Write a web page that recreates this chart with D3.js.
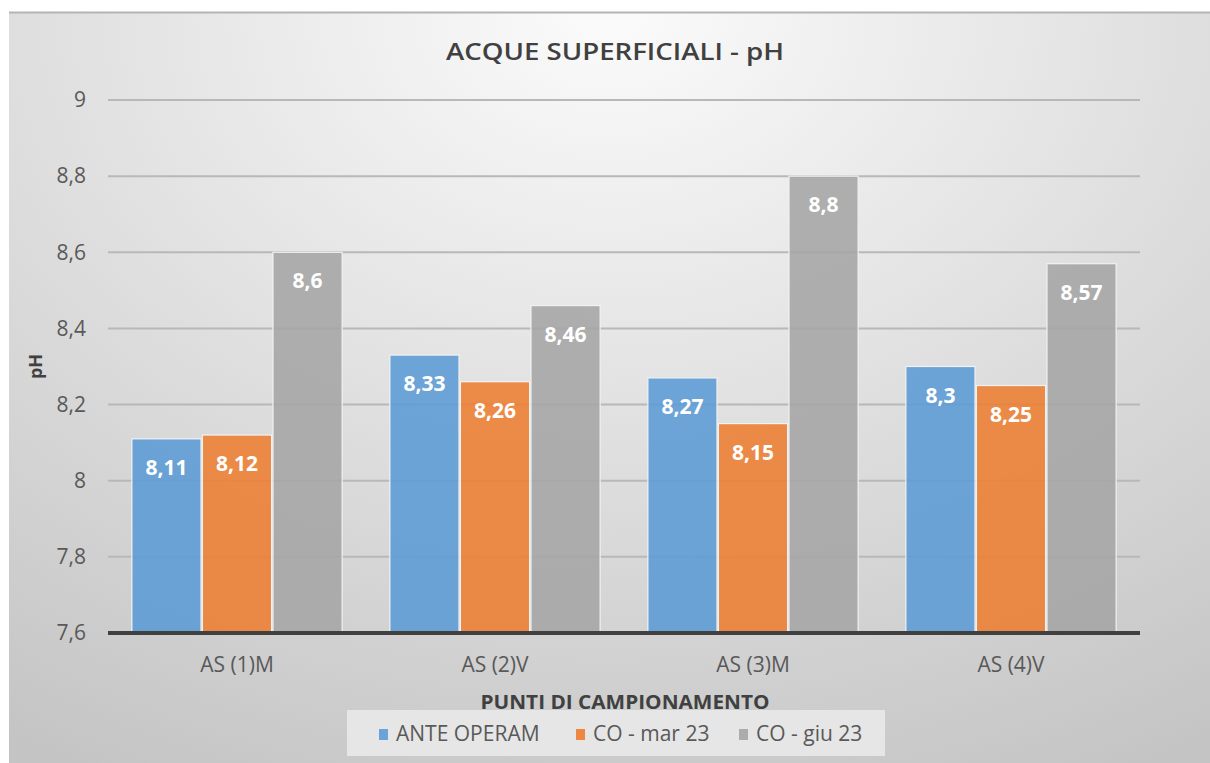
<!DOCTYPE html>
<html>
<head>
<meta charset="utf-8">
<script src="https://cdn.jsdelivr.net/npm/d3@7"></script>
<style>
    body { margin: 0; background: #fff; }
    svg { display: block; }
</style>
</head>
<body>
<div id="chart"></div>
<script>
var categories = ["AS (1)M", "AS (2)V", "AS (3)M", "AS (4)V"];
var seriesNames = ["ANTE OPERAM", "CO - mar 23", "CO - giu 23"];
var anteOperam = [8.11, 8.33, 8.27, 8.3];
var coMar23 = [8.12, 8.26, 8.15, 8.25];
var coGiu23 = [8.6, 8.46, 8.8, 8.57];
var yTicks = [7.6, 7.8, 8, 8.2, 8.4, 8.6, 8.8, 9];
var colors = ["#5b9bd5", "#ed7d31", "#a5a5a5"];

var width = 1210,
    height = 763;
var font = "'Open Sans', 'Noto Sans', sans-serif";

var svg = d3.select("#chart")
    .append("svg")
    .attr("width", width)
    .attr("height", height);

var defs = svg.append("defs");
var grad = defs.append("radialGradient")
    .attr("id", "bg")
    .attr("cx", "50%").attr("cy", "0%")
    .attr("r", "95%")
    .attr("gradientTransform", "translate(0.5,0) scale(1,1.2) translate(-0.5,0)");
grad.append("stop").attr("offset", "0%").attr("stop-color", "#fbfbfb");
grad.append("stop").attr("offset", "100%").attr("stop-color", "#c4c4c4");

// chart frame
svg.append("rect")
    .attr("x", 9).attr("y", 12)
    .attr("width", width - 9).attr("height", height - 12)
    .attr("fill", "url(#bg)");
svg.append("line")
    .attr("x1", 9).attr("x2", width)
    .attr("y1", 12.5).attr("y2", 12.5)
    .attr("stroke", "#b4b4b4").attr("stroke-width", 2);

var margin = {left: 108, right: 70, top: 100, bottom: 130};
var x0 = d3.scaleBand()
    .domain(categories)
    .range([margin.left, width - margin.right])
    .padding(0);
var y = d3.scaleLinear()
    .domain([7.6, 9])
    .range([height - margin.bottom, margin.top]);

var groupW = x0.bandwidth() * 0.815;
var x1 = d3.scaleBand()
    .domain(seriesNames)
    .range([0, groupW])
    .paddingInner(0.02);

var fmt = function (v) { return String(v).replace(".", ","); };

// gridlines
svg.append("g")
    .selectAll("line")
    .data(yTicks.slice(1))
    .enter()
    .append("line")
    .attr("x1", margin.left).attr("x2", width - margin.right)
    .attr("y1", function (d) { return y(d); })
    .attr("y2", function (d) { return y(d); })
    .attr("stroke", "#b8b8b8")
    .attr("stroke-width", 2);

// y axis labels
var yAxis = d3.axisLeft(y).tickValues(yTicks).tickSize(0).tickPadding(22).tickFormat(fmt);
var yg = svg.append("g")
    .attr("transform", "translate(" + margin.left + ",0)")
    .call(yAxis);
yg.select(".domain").remove();
yg.selectAll("text")
    .attr("font-family", font)
    .attr("font-size", 21)
    .attr("fill", "#595959");

var rows = categories.map(function (c, i) {
    return {cat: c, values: [anteOperam[i], coMar23[i], coGiu23[i]]};
});

var groups = svg.selectAll(".grp")
    .data(rows)
    .enter()
    .append("g")
    .attr("class", "grp")
    .attr("transform", function (d) {
        return "translate(" + (x0(d.cat) + (x0.bandwidth() - groupW) / 2) + ",0)";
    });

var bars = groups.selectAll("g.bar")
    .data(function (d) {
        return d.values.map(function (v, j) { return {name: seriesNames[j], v: v, j: j}; });
    })
    .enter()
    .append("g")
    .attr("class", "bar");

bars.append("rect")
    .attr("x", function (d) { return x1(d.name); })
    .attr("y", function (d) { return y(d.v); })
    .attr("width", x1.bandwidth())
    .attr("height", function (d) { return y(7.6) - y(d.v); })
    .attr("fill", function (d) { return colors[d.j]; })
    .attr("fill-opacity", 0.88)
    .attr("stroke", "#f2f2f2")
    .attr("stroke-width", 1.2);

bars.append("text")
    .attr("x", function (d) { return x1(d.name) + x1.bandwidth() / 2; })
    .attr("y", function (d) { return y(d.v) + 36; })
    .attr("text-anchor", "middle")
    .attr("font-family", font)
    .attr("font-weight", "bold")
    .attr("font-size", 21)
    .attr("fill", "#fff")
    .text(function (d) { return fmt(d.v); });

// baseline axis
svg.append("line")
    .attr("x1", margin.left).attr("x2", width - margin.right)
    .attr("y1", y(7.6)).attr("y2", y(7.6))
    .attr("stroke", "#404040")
    .attr("stroke-width", 4);

var xAxis = d3.axisBottom(x0).tickSize(0).tickPadding(24);
var xg = svg.append("g")
    .attr("transform", "translate(0," + y(7.6) + ")")
    .call(xAxis);
xg.select(".domain").remove();
xg.selectAll("text")
    .attr("font-family", font)
    .attr("font-size", 21)
    .attr("fill", "#595959");

// titles
svg.append("text")
    .attr("x", 615).attr("y", 60)
    .attr("text-anchor", "middle")
    .attr("font-family", font)
    .attr("font-weight", 600)
    .attr("font-size", 24)
    .attr("textLength", 338)
    .attr("lengthAdjust", "spacingAndGlyphs")
    .attr("fill", "#404040")
    .text("ACQUE SUPERFICIALI - pH");

svg.append("text")
    .attr("x", 625).attr("y", 709)
    .attr("text-anchor", "middle")
    .attr("font-family", font)
    .attr("font-weight", "bold")
    .attr("font-size", 20)
    .attr("textLength", 289)
    .attr("lengthAdjust", "spacingAndGlyphs")
    .attr("fill", "#404040")
    .text("PUNTI DI CAMPIONAMENTO");

svg.append("text")
    .attr("transform", "translate(42," + y(8.3) + ") rotate(-90)")
    .attr("text-anchor", "middle")
    .attr("font-family", font)
    .attr("font-weight", "bold")
    .attr("font-size", 18)
    .attr("fill", "#404040")
    .text("pH");

// legend
var legend = svg.append("g");
legend.append("rect")
    .attr("x", 347).attr("y", 710)
    .attr("width", 538).attr("height", 46)
    .attr("fill", "#ececec")
    .attr("fill-opacity", 0.8);

var legendX = [379, 576, 739];
var items = legend.selectAll(".li")
    .data(seriesNames)
    .enter()
    .append("g")
    .attr("class", "li")
    .attr("transform", function (d, i) { return "translate(" + legendX[i] + ",729)"; });
items.append("rect")
    .attr("width", 9).attr("height", 11)
    .attr("fill", function (d, i) { return colors[i]; })
    .attr("fill-opacity", 0.9);
items.append("text")
    .attr("x", 17).attr("y", 12)
    .attr("font-family", font)
    .attr("font-size", 21)
    .attr("fill", "#595959")
    .text(function (d) { return d; });
</script>
</body>
</html>
